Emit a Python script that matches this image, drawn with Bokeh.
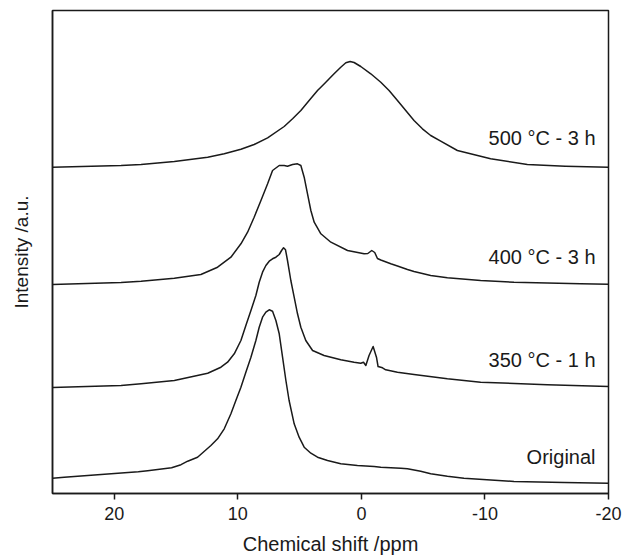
from bokeh.plotting import figure
from bokeh.models import FixedTicker, Range1d, Label
from bokeh.embed import file_html
from bokeh.resources import INLINE

# ---- data (chemical shift in ppm, intensity in a.u.) ----
names = ["Original", "350 °C - 1 h", "400 °C - 3 h", "500 °C - 3 h"]
offsets = [0, 90, 195, 315]

ppm_orig = [25, 24.05, 21.34, 18.06, 17.30, 15.36, 14.60, 14.06, 13.26, 12.18, 11.64, 11.10,
            10.56, 10.16, 9.75, 9.35, 8.94, 8.54, 8.27, 8.0, 7.73, 7.46, 7.19, 6.92,
            6.65, 6.38, 6.11, 5.85, 5.44, 5.04, 4.63, 4.09, 3.55, 2.74, 1.67, 0.32,
            -1.03, -1.57, -3.19, -3.73, -4.80, -5.61, -6.96, -8.30, -12.35, -16.4, -20]
int_orig = [15.3, 16.3, 18.7, 21.8, 22.8, 25.7, 28.8, 32.3, 36.3, 48, 54.7, 64.7,
            79.7, 93, 106.3, 121.3, 136.3, 153, 166.3, 176.3, 181.3, 183.7, 182.3, 173,
            159.7, 136.3, 113, 93, 69.7, 56.3, 46.3, 40.3, 36.3, 33, 29.7, 28,
            27, 26.3, 25.3, 24.7, 22.3, 19.7, 17.3, 15.3, 12, 11, 10.3]

ppm_350 = [25, 19.45, 17.83, 15.14, 12.44, 11.37, 10.83, 10.29, 9.75, 9.35, 8.94, 8.54,
           8.27, 8.0, 7.73, 7.46, 7.19, 6.92, 6.65, 6.46, 6.30, 6.14, 5.98, 5.71,
           5.44, 5.17, 4.90, 4.50, 3.95, 3.02, 1.67, 0.59, 0.05, -0.17, -0.36, -0.62,
           -0.95, -1.22, -1.35, -1.71, -1.97, -2.92, -4.26, -6.96, -9.65, -15.05, -20]
int_350 = [16, 18, 19.7, 23, 30.3, 36.3, 41.3, 49.7, 63, 78, 93, 108,
           121.3, 131.3, 138, 142.3, 144.7, 146.3, 149, 153, 155.7, 153.7, 143, 123,
           106.3, 89.7, 76.3, 63, 53, 48, 43.7, 41.3, 40.3, 41.3, 38, 48,
           57, 46.3, 37, 35.7, 33.7, 31.3, 29, 24.7, 21.3, 18.7, 17]

ppm_400 = [25, 19.45, 17.83, 15.14, 12.99, 11.64, 10.56, 9.75, 9.21, 8.68, 8.13, 7.59,
           7.19, 6.65, 6.25, 5.98, 5.57, 5.17, 4.90, 4.63, 4.36, 4.09, 3.82, 3.28,
           2.47, 1.12, -0.22, -0.52, -0.84, -1.08, -1.30, -1.57, -2.38, -2.92, -3.73,
           -4.26, -5.61, -6.96, -9.65, -12.35, -17.74, -20]
int_400 = [14, 16, 17.3, 20.3, 24, 31.3, 41.3, 54.7, 66.3, 81.3, 98, 114.7,
           128, 133, 133, 132.3, 134, 134.7, 133, 121.3, 104.7, 88, 76.3, 64.7,
           56.3, 48, 44.7, 45, 48, 46, 40, 38.5, 34.7, 32.5, 29,
           27, 23, 20.7, 18, 16.3, 14.7, 14.3]

ppm_500 = [25, 19.45, 17.83, 15.14, 12.44, 11.10, 9.75, 8.68, 7.59, 6.25, 5.57, 4.90,
           4.23, 3.55, 2.88, 2.21, 1.67, 1.26, 0.91, 0.59, 0.05, -0.76, -1.57, -2.24,
           -2.92, -3.59, -4.26, -4.94, -5.61, -6.42, -7.77, -10.46, -13.43, -16.5, -20]
int_500 = [11.3, 13, 14, 17, 21.3, 24.7, 29.3, 34, 40.7, 52, 59.7, 68,
           78, 88, 96.3, 104.7, 111.3, 115.7, 117, 116, 112, 104.7, 96.3, 88,
           78, 68, 58, 49.7, 43, 37.3, 28, 19.7, 14, 12.3, 11.3]

x_ticks = [20, 10, 0, -10, -20]

series = [(ppm_orig, int_orig), (ppm_350, int_350), (ppm_400, int_400), (ppm_500, int_500)]

FONT = "Liberation Sans"
INK = "#1a1a1a"

p = figure(width=624, height=558, output_backend="svg", toolbar_location=None,
           x_range=Range1d(25, -20), y_range=Range1d(0, 483),
           min_border_left=52, min_border_right=16, min_border_top=10, min_border_bottom=65)

p.xgrid.visible = False
p.ygrid.visible = False
p.background_fill_color = "white"
p.border_fill_color = "white"
p.outline_line_color = INK
p.outline_line_width = 1.5

for (xs, ys), off in zip(series, offsets):
    p.line(xs, [v + off for v in ys], line_color=INK, line_width=1.5, line_join="round")

# x axis
xa = p.xaxis[0]
xa.ticker = FixedTicker(ticks=x_ticks)
xa.major_label_overrides = {t: str(t) for t in x_ticks}
xa.minor_tick_line_color = None
xa.major_tick_in = 0
xa.major_tick_out = 6
xa.major_tick_line_color = INK
xa.major_tick_line_width = 1.5
xa.axis_line_color = INK
xa.axis_line_width = 1.5
xa.major_label_text_font = FONT
xa.major_label_text_font_size = "18px"
xa.major_label_text_color = INK
xa.major_label_standoff = 7
xa.axis_label = "Chemical shift /ppm"
xa.axis_label_text_font = FONT
xa.axis_label_text_font_size = "20px"
xa.axis_label_text_font_style = "normal"
xa.axis_label_text_color = INK
xa.axis_label_standoff = 10

# y axis (no ticks)
ya = p.yaxis[0]
ya.ticker = FixedTicker(ticks=[])
ya.minor_tick_line_color = None
ya.major_tick_line_color = None
ya.major_tick_out = 0
ya.major_tick_in = 0
ya.major_label_text_font_size = "0px"
ya.axis_line_color = INK
ya.axis_line_width = 1.5
ya.axis_label = "Intensity /a.u."
ya.axis_label_text_font = FONT
ya.axis_label_text_font_size = "19px"
ya.axis_label_text_font_style = "normal"
ya.axis_label_text_color = INK
ya.axis_label_standoff = 21

# curve labels
label_y = [36.3, 133.7, 236.3, 356]
for name, ly in zip(names, label_y):
    p.add_layout(Label(x=-18.95, y=ly, text=name, text_align="right", text_baseline="middle",
                       text_font=FONT, text_font_size="20px", text_color=INK))

open("out.html", "w").write(file_html(p, INLINE))
